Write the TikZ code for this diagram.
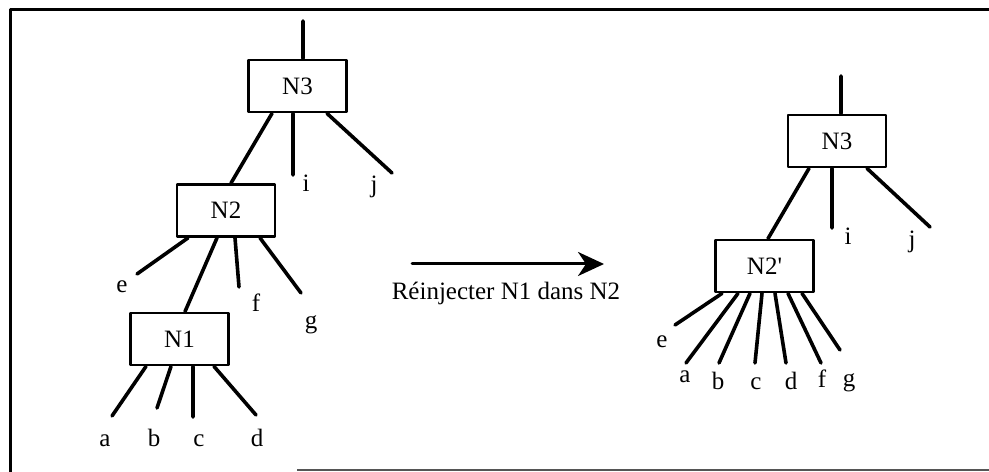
\documentclass[tikz,border=0pt]{standalone}
\usepackage{fontspec}
\setmainfont{Liberation Serif}
\usetikzlibrary{arrows.meta}
\definecolor{scan}{HTML}{555555}
\tikzset{
  every picture/.style={font=\fontsize{25bp}{30bp}\selectfont, line join=round, line cap=round, >=Stealth},
  box/.style={draw, line width=2.8bp, minimum width=98bp, minimum height=52bp, inner sep=0pt},
  branch/.style={line width=3.6bp},
  leaf/.style={anchor=base, inner sep=0pt},
  frame/.style={line width=3bp, line cap=butt},
}
\begin{document}
\begin{tikzpicture}[x=1bp,y=-1bp]
\useasboundingbox (0,0) rectangle (989,472);
\draw[frame] (989,10) -- (10,10) -- (10,472);
\draw[scan,line width=2bp,line cap=butt] (297,470) -- (989,470);
% left tree
\node[box] (lN3) at (297.5,86) {N3};
\node[box] (lN2) at (226,210.5) {N2};
\node[box] (lN1) at (179.5,339) {N1};
\coordinate (lTop) at (303,21);
\draw[branch] ([xshift=5.5bp]lN3.north) -- (lTop);
\draw[branch] ([xshift=-25.5bp]lN3.south) -- ([xshift=5bp]lN2.north);
\draw[branch] ([xshift=-9bp]lN2.south) -- ([xshift=5.5bp]lN1.north);
\foreach \nm/\dx/\ex/\ey/\lx/\ly in {i/-4.5/293/175/306/192, j/29.5/392/173/374/193}{
  \coordinate (l3E\nm) at (\ex,\ey);
  \node[leaf] (l3L\nm) at (\lx,\ly) {\nm};
  \draw[branch] ([xshift=\dx bp]lN3.south) -- (l3E\nm);
}
\foreach \nm/\dx/\ex/\ey/\lx/\ly in {e/-38/137/274/122/293, f/9/239/287/256/312, g/34/301/293/311/329}{
  \coordinate (l2E\nm) at (\ex,\ey);
  \node[leaf] (l2L\nm) at (\lx,\ly) {\nm};
  \draw[branch] ([xshift=\dx bp]lN2.south) -- (l2E\nm);
}
\foreach \nm/\dx/\ex/\ey/\lx/\ly in {a/-33.5/112/416/105/446, b/-8.5/157/408/154/446, c/13.5/193/417/199/446, d/34.5/256/415/257/446}{
  \coordinate (l1E\nm) at (\ex,\ey);
  \node[leaf] (l1L\nm) at (\lx,\ly) {\nm};
  \draw[branch] ([xshift=\dx bp]lN1.south) -- (l1E\nm);
}
% transformation arrow
\coordinate (arrS) at (412,264);
\coordinate (arrE) at (604,264);
\draw[line width=3bp, -{Stealth[length=26bp,width=24bp,inset=8bp]}] (arrS) -- (arrE);
\node[leaf] (caption) at (506,300) {Réinjecter N1 dans N2};
% right tree
\node[box] (rN3) at (837,141) {N3};
\node[box] (rN2) at (764.5,266) {N2\textquotesingle};
\coordinate (rTop) at (841,76);
\draw[branch] ([xshift=4bp]rN3.north) -- (rTop);
\draw[branch] ([xshift=-28bp]rN3.south) -- ([xshift=3.5bp]rN2.north);
\foreach \nm/\dx/\ex/\ey/\lx/\ly in {i/-5/832/228/848/245, j/30/930/227/912/248}{
  \coordinate (r3E\nm) at (\ex,\ey);
  \node[leaf] (r3L\nm) at (\lx,\ly) {\nm};
  \draw[branch] ([xshift=\dx bp]rN3.south) -- (r3E\nm);
}
\foreach \nm/\dx/\ex/\ey/\lx/\ly in {e/-42.5/675/325/662/348, a/-26.5/686/363/685/383, b/-14.5/719/363/718/390, c/-2.5/755/363/756/390, d/10.5/786/363/791/390, f/23.5/821/363/822/388, g/37.5/840/350/849/387}{
  \coordinate (r2E\nm) at (\ex,\ey);
  \node[leaf] (r2L\nm) at (\lx,\ly) {\nm};
  \draw[branch] ([xshift=\dx bp]rN2.south) -- (r2E\nm);
}
\end{tikzpicture}
\end{document}
